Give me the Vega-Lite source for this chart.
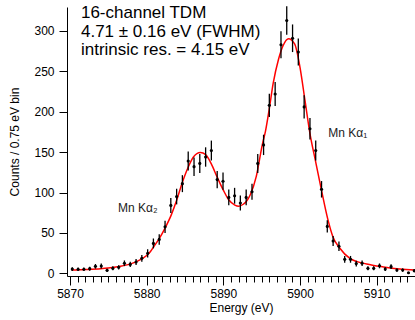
{
  "$schema": "https://vega.github.io/schema/vega-lite/v6.json",
  "width": 348,
  "height": 269,
  "autosize": {"type": "none"},
  "padding": {"left": 67, "top": 7, "right": 0, "bottom": 44},
  "background": "white",
  "config": {
    "view": {"stroke": null},
    "font": "Liberation Sans",
    "axis": {
      "domainColor": "black", "tickColor": "black", "labelColor": "black", "titleColor": "black",
      "labelFont": "Liberation Sans", "titleFont": "Liberation Sans",
      "labelFontSize": 12, "titleFontSize": 12, "titleFontWeight": "normal",
      "grid": false, "domainWidth": 1, "tickWidth": 1
    }
  },
  "datasets": {
    "pts": [
      {"energy": 5870.30, "counts": 5.3, "err": 2.3},
      {"energy": 5871.06, "counts": 5.0, "err": 2.2},
      {"energy": 5871.81, "counts": 5.0, "err": 2.2},
      {"energy": 5872.57, "counts": 5.7, "err": 2.4},
      {"energy": 5873.32, "counts": 8.6, "err": 2.9},
      {"energy": 5874.08, "counts": 9.0, "err": 3.0},
      {"energy": 5874.84, "counts": 3.7, "err": 1.9},
      {"energy": 5875.59, "counts": 6.2, "err": 2.5},
      {"energy": 5876.35, "counts": 7.4, "err": 2.7},
      {"energy": 5877.10, "counts": 12.4, "err": 3.5},
      {"energy": 5877.86, "counts": 11.0, "err": 3.3},
      {"energy": 5878.62, "counts": 14.0, "err": 3.7},
      {"energy": 5879.37, "counts": 18.5, "err": 4.3},
      {"energy": 5880.13, "counts": 24.7, "err": 5.0},
      {"energy": 5880.88, "counts": 37.0, "err": 6.1},
      {"energy": 5881.64, "counts": 42.0, "err": 6.5},
      {"energy": 5882.40, "counts": 57.6, "err": 7.6},
      {"energy": 5883.15, "counts": 84.0, "err": 9.2},
      {"energy": 5883.91, "counts": 95.0, "err": 9.7},
      {"energy": 5884.66, "counts": 111.0, "err": 10.5},
      {"energy": 5885.42, "counts": 139.0, "err": 11.8},
      {"energy": 5886.18, "counts": 132.0, "err": 11.5},
      {"energy": 5886.93, "counts": 136.0, "err": 11.7},
      {"energy": 5887.69, "counts": 144.0, "err": 12.0},
      {"energy": 5888.44, "counts": 152.0, "err": 12.3},
      {"energy": 5889.20, "counts": 116.0, "err": 10.8},
      {"energy": 5889.96, "counts": 114.0, "err": 10.7},
      {"energy": 5890.71, "counts": 94.0, "err": 9.7},
      {"energy": 5891.47, "counts": 96.0, "err": 9.8},
      {"energy": 5892.22, "counts": 87.0, "err": 9.3},
      {"energy": 5892.98, "counts": 94.0, "err": 9.7},
      {"energy": 5893.74, "counts": 101.0, "err": 10.0},
      {"energy": 5894.49, "counts": 136.0, "err": 11.7},
      {"energy": 5895.25, "counts": 159.0, "err": 12.6},
      {"energy": 5896.00, "counts": 208.0, "err": 14.4},
      {"energy": 5896.76, "counts": 222.0, "err": 14.9},
      {"energy": 5897.52, "counts": 283.0, "err": 16.8},
      {"energy": 5898.27, "counts": 313.0, "err": 17.7},
      {"energy": 5899.03, "counts": 291.0, "err": 17.1},
      {"energy": 5899.78, "counts": 274.0, "err": 16.6},
      {"energy": 5900.54, "counts": 206.0, "err": 14.4},
      {"energy": 5901.30, "counts": 179.0, "err": 13.4},
      {"energy": 5902.05, "counts": 152.0, "err": 12.3},
      {"energy": 5902.81, "counts": 104.0, "err": 10.2},
      {"energy": 5903.56, "counts": 58.0, "err": 7.6},
      {"energy": 5904.32, "counts": 40.0, "err": 6.3},
      {"energy": 5905.08, "counts": 33.5, "err": 5.8},
      {"energy": 5905.83, "counts": 17.3, "err": 4.2},
      {"energy": 5906.59, "counts": 17.3, "err": 4.2},
      {"energy": 5907.34, "counts": 12.0, "err": 3.5},
      {"energy": 5908.10, "counts": 12.4, "err": 3.5},
      {"energy": 5908.86, "counts": 6.2, "err": 2.5},
      {"energy": 5909.61, "counts": 6.2, "err": 2.5},
      {"energy": 5910.37, "counts": 9.2, "err": 3.0},
      {"energy": 5911.12, "counts": 5.2, "err": 2.3},
      {"energy": 5911.88, "counts": 8.2, "err": 2.9},
      {"energy": 5912.64, "counts": 4.0, "err": 2.0},
      {"energy": 5913.39, "counts": 4.0, "err": 2.0},
      {"energy": 5914.15, "counts": 0.7, "err": 0.8},
      {"energy": 5914.90, "counts": 3.2, "err": 1.8}
    ],
    "fit": [
      {"energy": 5870.2, "counts": 4.0},
      {"energy": 5872.0, "counts": 4.6},
      {"energy": 5874.0, "counts": 5.6},
      {"energy": 5875.0, "counts": 6.5},
      {"energy": 5876.0, "counts": 7.8},
      {"energy": 5877.0, "counts": 9.5},
      {"energy": 5878.0, "counts": 12.0},
      {"energy": 5879.0, "counts": 16.0},
      {"energy": 5880.0, "counts": 22.0},
      {"energy": 5880.5, "counts": 27.0},
      {"energy": 5881.0, "counts": 34.0},
      {"energy": 5881.7, "counts": 44.0},
      {"energy": 5882.4, "counts": 56.0},
      {"energy": 5883.2, "counts": 72.0},
      {"energy": 5883.9, "counts": 90.0},
      {"energy": 5884.6, "counts": 111.0},
      {"energy": 5885.4, "counts": 131.0},
      {"energy": 5886.1, "counts": 144.0},
      {"energy": 5887.0, "counts": 149.5},
      {"energy": 5887.7, "counts": 147.0},
      {"energy": 5888.4, "counts": 136.0},
      {"energy": 5889.2, "counts": 119.0},
      {"energy": 5890.0, "counts": 103.0},
      {"energy": 5890.7, "counts": 91.0},
      {"energy": 5891.5, "counts": 84.5},
      {"energy": 5892.0, "counts": 83.0},
      {"energy": 5892.6, "counts": 85.5},
      {"energy": 5893.0, "counts": 89.0},
      {"energy": 5893.5, "counts": 97.0},
      {"energy": 5894.3, "counts": 120.0},
      {"energy": 5895.1, "counts": 160.0},
      {"energy": 5895.5, "counts": 176.0},
      {"energy": 5896.0, "counts": 204.0},
      {"energy": 5896.5, "counts": 235.0},
      {"energy": 5897.2, "counts": 265.0},
      {"energy": 5897.8, "counts": 282.0},
      {"energy": 5898.5, "counts": 290.5},
      {"energy": 5899.3, "counts": 284.0},
      {"energy": 5900.0, "counts": 255.0},
      {"energy": 5900.65, "counts": 214.0},
      {"energy": 5901.3, "counts": 173.0},
      {"energy": 5902.0, "counts": 140.0},
      {"energy": 5902.8, "counts": 103.0},
      {"energy": 5903.6, "counts": 68.0},
      {"energy": 5904.3, "counts": 45.0},
      {"energy": 5905.2, "counts": 31.0},
      {"energy": 5906.5, "counts": 18.5},
      {"energy": 5908.7, "counts": 11.5},
      {"energy": 5910.9, "counts": 7.8},
      {"energy": 5913.0, "counts": 5.3},
      {"energy": 5915.0, "counts": 4.0}
    ],
    "info": [
      {"energy": 5871.43, "counts": 316.1, "label": "16-channel TDM"},
      {"energy": 5871.43, "counts": 292.6, "label": "4.71 ± 0.16 eV (FWHM)"},
      {"energy": 5871.43, "counts": 270.3, "label": "intrinsic res. = 4.15 eV"}
    ],
    "lines": [
      {"energy": 5876.26, "counts": 76.3, "label": "Mn Kα₂"},
      {"energy": 5903.69, "counts": 169.1, "label": "Mn Kα₁"}
    ]
  },
  "resolve": {"axis": {"x": "independent", "y": "independent"}},
  "layer": [
    {
      "data": {"name": "fit"},
      "mark": {"type": "line", "color": "#ff0000", "strokeWidth": 1.5, "interpolate": "monotone", "clip": true},
      "encoding": {
        "x": {"field": "energy", "type": "quantitative", "scale": {"domain": [5869.61, 5915.0], "nice": false, "zero": false},
          "axis": {"orient": "bottom", "values": [5870, 5880, 5890, 5900, 5910], "format": "d", "tickSize": 9, "labelPadding": 3, "title": "Energy (eV)", "titlePadding": 3}},
        "y": {"field": "counts", "type": "quantitative", "scale": {"domain": [-3.34, 329.7], "nice": false, "zero": false},
          "axis": {"orient": "left", "values": [0, 50, 100, 150, 200, 250, 300], "tickSize": 8, "labelPadding": 5, "title": "Counts / 0.75 eV bin", "titlePadding": 12}}
      }
    },
    {
      "data": {"name": "pts"},
      "mark": {"type": "errorbar", "ticks": false, "color": "black", "thickness": 1.3},
      "encoding": {
        "x": {"field": "energy", "type": "quantitative",
          "axis": {"orient": "bottom", "values": [5870, 5871, 5872, 5873, 5874, 5875, 5876, 5877, 5878, 5879, 5880, 5881, 5882, 5883, 5884, 5885, 5886, 5887, 5888, 5889, 5890, 5891, 5892, 5893, 5894, 5895, 5896, 5897, 5898, 5899, 5900, 5901, 5902, 5903, 5904, 5905, 5906, 5907, 5908, 5909, 5910, 5911, 5912, 5913, 5914], "labels": false, "domain": false, "tickSize": 6, "title": null}},
        "y": {"field": "counts", "type": "quantitative", "axis": null},
        "yError": {"field": "err"}
      }
    },
    {
      "data": {"name": "pts"},
      "mark": {"type": "point", "filled": true, "color": "black", "size": 10, "opacity": 1},
      "encoding": {
        "x": {"field": "energy", "type": "quantitative", "axis": null},
        "y": {"field": "counts", "type": "quantitative", "axis": null}
      }
    },
    {
      "data": {"name": "info"},
      "mark": {"type": "text", "align": "left", "baseline": "alphabetic", "fontSize": 17, "color": "black", "font": "Liberation Sans"},
      "encoding": {
        "x": {"field": "energy", "type": "quantitative", "axis": null},
        "y": {"field": "counts", "type": "quantitative", "axis": null},
        "text": {"field": "label"}
      }
    },
    {
      "data": {"name": "lines"},
      "mark": {"type": "text", "align": "left", "baseline": "alphabetic", "fontSize": 12, "color": "#222222", "font": "Liberation Sans"},
      "encoding": {
        "x": {"field": "energy", "type": "quantitative", "axis": null},
        "y": {"field": "counts", "type": "quantitative", "axis": null},
        "text": {"field": "label"}
      }
    }
  ]
}
